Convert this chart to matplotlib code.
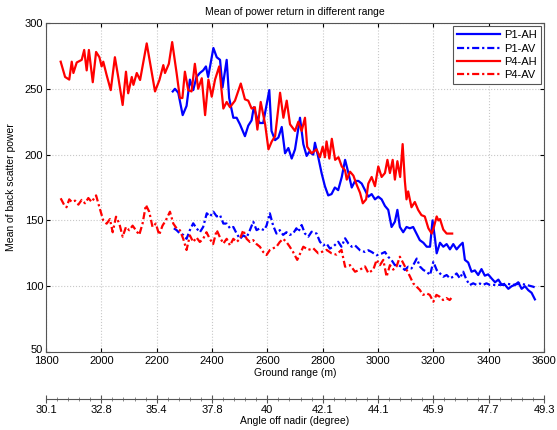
import matplotlib.pyplot as plt
import matplotlib.transforms as mtransforms
from matplotlib.ticker import AutoMinorLocator

plt.rcParams['font.family'] = ['Liberation Sans', 'DejaVu Sans']

# P1-AH (blue solid)
p1_ah_x = [2258, 2266, 2278, 2294, 2308, 2320, 2332, 2344, 2356, 2368, 2378, 2386, 2399, 2405, 2417,
           2429, 2438, 2453, 2462, 2477, 2489, 2501, 2519, 2531, 2543, 2551, 2564, 2573, 2585, 2607,
           2615, 2628, 2640, 2652, 2664, 2676, 2688, 2700, 2718, 2730, 2742, 2751, 2766, 2772, 2784,
           2796, 2808, 2820, 2832, 2844, 2856, 2869, 2881, 2893, 2905, 2917, 2929, 2941, 2953, 2965,
           2977, 2989, 3001, 3013, 3025, 3037, 3049, 3061, 3070, 3079, 3091, 3103, 3115, 3127, 3139,
           3151, 3164, 3176, 3188, 3197, 3206, 3212, 3224, 3236, 3248, 3260, 3272, 3284, 3296, 3306,
           3314, 3326, 3338, 3350, 3362, 3374, 3386, 3398, 3410, 3423, 3435, 3447, 3459, 3471, 3483,
           3495, 3507, 3519, 3531, 3543, 3555, 3567]
p1_ah_y = [248, 250, 247, 230, 237, 257, 249, 259, 262, 264, 267, 259, 274, 281, 274,
           272, 251, 272, 243, 228, 228, 223, 214, 222, 226, 236, 227, 224, 224, 249,
           218, 211, 213, 221, 201, 205, 197, 204, 228, 208, 199, 202, 200, 209, 198,
           186, 176, 169, 170, 175, 173, 183, 196, 186, 175, 180, 180, 178, 173, 168,
           170, 166, 168, 166, 161, 158, 145, 149, 158, 145, 141, 145, 144, 145, 140,
           135, 133, 130, 130, 150, 136, 125, 133, 130, 132, 128, 132, 128, 131, 133,
           120, 118, 111, 112, 108.5, 113, 108, 109, 106, 103, 105, 101, 101, 98, 100,
           101, 103, 98, 100, 97, 95, 90]

# P1-AV (blue dash-dot)
p1_av_x = [2262, 2272, 2284, 2296, 2308, 2320, 2332, 2344, 2356, 2368, 2381, 2393, 2405, 2417, 2429,
           2441, 2453, 2465, 2477, 2489, 2501, 2513, 2525, 2537, 2549, 2561, 2573, 2588, 2597, 2609,
           2621, 2633, 2645, 2657, 2669, 2681, 2693, 2705, 2712, 2724, 2736, 2748, 2760, 2778, 2790,
           2802, 2814, 2826, 2838, 2856, 2868, 2881, 2893, 2905, 2917, 2935, 2953, 2965, 2977, 2995,
           3013, 3025, 3037, 3049, 3061, 3073, 3085, 3097, 3109, 3121, 3140, 3152, 3164, 3176, 3188,
           3200, 3212, 3224, 3236, 3248, 3260, 3272, 3284, 3296, 3308, 3320, 3332, 3344, 3356, 3368,
           3380, 3392, 3404, 3416, 3440, 3464, 3488, 3512, 3536, 3561, 3576]
p1_av_y = [144, 142.6, 140, 139, 136, 142.6, 147.8, 144, 141, 145, 155.4, 153, 156.6, 153, 154,
           147.6, 147.6, 144, 145, 140, 136, 138.6, 137, 142.6, 149, 142.6, 144, 142.6, 146, 155.4,
           146, 140, 142.6, 139, 141, 139, 140, 144, 141.3, 146.5, 140, 137.6, 141.4, 140, 133.8,
           131, 132.4, 128.6, 130, 133.8, 130, 136.4, 132.4, 130, 131, 127.3, 126, 127.3, 126, 123.5,
           124.8, 126, 122.3, 119.8, 116, 116, 114.8, 112.3, 114.8, 113.5, 121, 114.8, 112.3, 111, 108.5,
           118.6, 112.3, 109.7, 107.2, 108.5, 106, 107.2, 109.7, 106, 111, 104.7, 100.9, 102.2, 101, 102,
           101, 102.2, 101, 101, 101, 102, 101, 102, 101, 99.6, 98.4]

# P4-AH (red solid)
p4_ah_x = [1853, 1869, 1884, 1893, 1899, 1911, 1929, 1938, 1947, 1955, 1969, 1981, 1993, 2001, 2007,
           2019, 2034, 2049, 2061, 2077, 2089, 2097, 2110, 2116, 2128, 2140, 2164, 2194, 2210, 2224,
           2230, 2244, 2256, 2272, 2284, 2293, 2302, 2314, 2326, 2338, 2350, 2363, 2375, 2387, 2399,
           2411, 2426, 2441, 2453, 2465, 2483, 2504, 2519, 2531, 2543, 2555, 2564, 2576, 2592, 2604,
           2616, 2628, 2646, 2658, 2670, 2682, 2700, 2712, 2724, 2736, 2744, 2760, 2778, 2790, 2800,
           2808, 2814, 2824, 2833, 2845, 2857, 2869, 2881, 2887, 2899, 2911, 2923, 2935, 2945, 2957,
           2965, 2977, 2989, 3001, 3013, 3025, 3034, 3043, 3053, 3061, 3070, 3080, 3089, 3097, 3103,
           3109, 3121, 3133, 3145, 3157, 3169, 3182, 3194, 3202, 3212, 3218, 3224, 3236, 3248, 3258,
           3268]
p4_ah_y = [270.6, 259, 257, 270.6, 262, 270, 272, 279.5, 264, 279.5, 255, 278, 274, 267, 270.6,
           260.5, 249, 274, 259, 237.7, 263, 246.6, 259, 253, 262, 256.7, 284.5, 248, 256.7, 268,
           262, 269, 285.5, 262, 243, 243, 263, 249, 248, 269, 250, 258, 230, 257, 244,
           257, 267, 235, 240, 236, 241, 254, 242, 241, 235, 236, 219, 240, 223, 204,
           210, 214, 247, 228, 241, 223, 218, 225, 218, 228, 206, 201, 204, 198, 206,
           198, 210, 197, 212, 196, 198, 191, 188, 181, 187, 184, 177, 171, 163, 166,
           178, 183, 176, 191, 183, 186, 196, 186, 196, 181, 195, 183, 208, 180, 166,
           172, 160, 164, 158, 154, 153, 144, 140, 145, 153, 150, 151, 143, 140, 140,
           140]

# P4-AV (red dash-dot)
p4_av_x = [1853, 1865, 1874, 1884, 1893, 1905, 1917, 1929, 1941, 1953, 1965, 1981, 1993, 2007, 2019,
           2031, 2041, 2053, 2065, 2077, 2089, 2101, 2113, 2125, 2137, 2149, 2161, 2173, 2185, 2197,
           2209, 2221, 2233, 2248, 2260, 2272, 2284, 2296, 2308, 2320, 2332, 2344, 2356, 2368, 2380,
           2392, 2404, 2417, 2429, 2441, 2453, 2465, 2477, 2489, 2501, 2513, 2525, 2537, 2549, 2561,
           2573, 2585, 2597, 2609, 2621, 2633, 2645, 2657, 2669, 2681, 2693, 2708, 2730, 2748, 2766,
           2784, 2796, 2814, 2832, 2850, 2868, 2881, 2899, 2917, 2935, 2953, 2965, 2983, 2995, 3007,
           3019, 3031, 3043, 3055, 3067, 3079, 3091, 3103, 3115, 3127, 3139, 3151, 3163, 3175, 3187,
           3200, 3211, 3223, 3235, 3247, 3259, 3265]
p4_av_y = [166.8, 162, 160, 166, 164, 165, 162, 165.6, 163, 167, 164, 169, 160, 150, 147.5,
           151, 141, 152.8, 147.6, 137.6, 145, 142.5, 146, 142.5, 139, 147.6, 161.7, 156.6, 145, 147.6,
           139, 146, 150, 156.6, 147.6, 144, 142.5, 136, 127.5, 138.6, 133.6, 137, 133.6, 136, 141,
           136, 132, 142.6, 137, 132.4, 136, 131, 136, 133.6, 136, 142.6, 136, 133.6, 135, 132,
           130, 126, 123.7, 127.5, 128.8, 130, 133.6, 136, 133.6, 130, 126, 120, 130, 127.6, 128.8,
           125, 126, 127.6, 125, 124, 127.6, 114.8, 116, 111, 112.6, 115, 110, 112.6, 120, 116,
           120, 107.2, 116, 112.6, 115, 122.4, 117.6, 112.6, 107.6, 102.2, 99.7, 97.2, 93.4, 94.6, 93.4,
           88.2, 93.4, 92, 89.5, 91, 89.5, 91]

x_ticks = [1800, 2000, 2200, 2400, 2600, 2800, 3000, 3200, 3400, 3600]
y_ticks = [50, 100, 150, 200, 250, 300]
angle_labels = ['30.1', '32.8', '35.4', '37.8', '40', '42.1', '44.1', '45.9', '47.7', '49.3']

fig = plt.figure(figsize=(5.57, 4.30), dpi=100)
ax = fig.add_axes([0.0826, 0.1814, 0.8941, 0.7651])

dashdot = (0, (3.2, 1.3, 1, 1.3))
ax.plot(p1_ah_x, p1_ah_y, color='#0000ff', lw=1.6, ls='-', label='P1-AH')
ax.plot(p1_av_x, p1_av_y, color='#0000ff', lw=1.6, ls=dashdot, label='P1-AV')
ax.plot(p4_ah_x, p4_ah_y, color='#ff0000', lw=1.6, ls='-', label='P4-AH')
ax.plot(p4_av_x, p4_av_y, color='#ff0000', lw=1.6, ls=dashdot, label='P4-AV')

ax.set_xlim(1800, 3600)
ax.set_ylim(50, 300)
ax.set_xticks(x_ticks)
ax.set_yticks(y_ticks)
ax.tick_params(direction='in', labelsize=8, length=3, top=True, right=True)
ax.tick_params(axis='x', pad=3)
ax.tick_params(axis='y', pad=2)
ax.grid(True, ls=':', color='#c8c8c8', lw=0.8)
for s in ax.spines.values():
    s.set_color('#555555')
    s.set_linewidth(0.8)

# lift the "50" label a little, as in the original
fig.canvas.draw()
lab50 = ax.get_yticklabels()[0]
lab50.set_transform(lab50.get_transform() + mtransforms.ScaledTranslation(0, 2 / 72, fig.dpi_scale_trans))

ax.set_title('Mean of power return in different range', fontsize=7.5, pad=6)
ax.set_xlabel('Ground range (m)', fontsize=7.5, labelpad=1)
ax.set_ylabel('Mean of back scatter power', fontsize=7.5, labelpad=6)

leg = ax.legend(loc='upper right', fontsize=8, fancybox=False, framealpha=1,
                edgecolor='#555555', handlelength=3.8, borderpad=0.35, labelspacing=0.3,
                handletextpad=0.4, borderaxespad=0.3)
leg.get_frame().set_linewidth(0.8)

# second axis: angle off nadir
ax2 = fig.add_axes([0.0826, 0.072, 0.8941, 0.0001])
ax2.set_xlim(0, 9)
ax2.set_xticks(range(10))
ax2.set_xticklabels(angle_labels)
ax2.xaxis.set_minor_locator(AutoMinorLocator(5))
ax2.set_yticks([])
for side in ['top', 'left', 'right']:
    ax2.spines[side].set_visible(False)
ax2.spines['bottom'].set_color('#555555')
ax2.tick_params(axis='x', direction='inout', length=6, labelsize=8, pad=1, color='#555555')
ax2.tick_params(axis='x', which='minor', direction='inout', length=3, color='#777777')
ax2.set_xlabel('Angle off nadir (degree)', fontsize=7.5, labelpad=1)

fig.savefig('out.png', dpi=100)
